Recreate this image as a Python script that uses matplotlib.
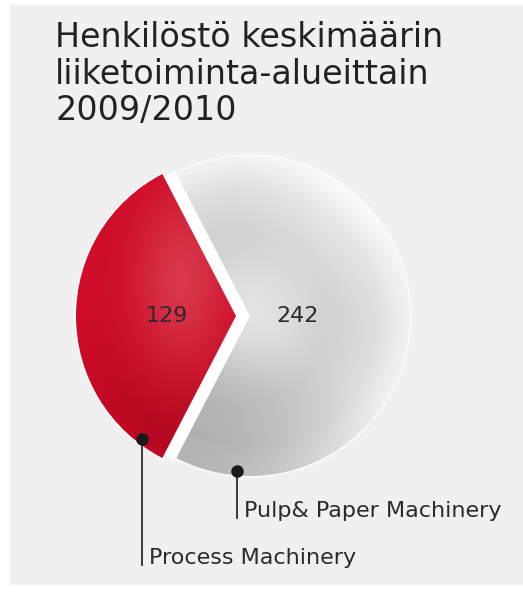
import numpy as np
import matplotlib.pyplot as plt

# data
labels = ["Process Machinery", "Pulp& Paper Machinery"]
values = [129, 242]
title = "Henkilöstö keskimäärin\nliiketoiminta-alueittain\n2009/2010"

plt.rcParams['font.family'] = ['DejaVu Sans']

W, H = 523, 592
fig = plt.figure(figsize=(W / 100, H / 100), dpi=100)
fig.patch.set_facecolor("white")
ax = fig.add_axes([0, 0, 1, 1])

# grey panel
ax.add_patch(plt.Rectangle((10, 8), W - 10, H - 13, color="#f0f0f0", zorder=0))

cx, cy, r = 250, H - 316, 160
expl = 14
share = values[0] / sum(values)
start = 180 - 180 * share
wedges, _ = ax.pie(values, startangle=start, center=(cx, cy), radius=r,
                   explode=[expl, 0], colors=["#cc1430", "#d4d4d4"],
                   wedgeprops=dict(edgecolor="#fafafa", linewidth=2.5))

# white gap between the slices (one polyline so the corner is mitred)
a1 = np.deg2rad(wedges[0].theta1)
a2 = np.deg2rad(wedges[0].theta2)
x0 = cx - expl / 2
ax.plot([x0 + r * np.cos(a1), x0, x0 + r * np.cos(a2)],
        [cy + r * np.sin(a1), cy, cy + r * np.sin(a2)],
        color="white", lw=9, solid_capstyle="butt", solid_joinstyle="miter", zorder=1.5)

# shading for the wedges
yy, xx = np.mgrid[0:H, 0:W] + 0.5

# red one
rx, ry = wedges[0].center
ry = H - ry
light = np.exp(-((xx - 182) ** 2 / (2 * 32.0 ** 2) + (yy - 280) ** 2 / (2 * 60.0 ** 2)))
base = np.array([0.80, 0.05, 0.16])
pink = np.array([0.90, 0.38, 0.43])
dark = np.array([0.64, 0.02, 0.10])
t_dark = np.clip(((yy - ry) / r) * 0.9 + ((rx - xx) / r) * 0.15, 0, 1) ** 1.5
red = base[None, None, :] * (1 - t_dark[..., None]) + dark[None, None, :] * t_dark[..., None]
red = red * (1 - 0.5 * light[..., None]) + pink[None, None, :] * 0.5 * light[..., None]
rr = np.hypot(xx - rx, yy - ry) / r
rim = np.clip((rr - 0.85) / 0.15, 0, 1)
red = red * (1 - 0.4 * rim[..., None]) + np.array([0.85, 0.04, 0.17]) * 0.4 * rim[..., None]
im1 = ax.imshow(np.clip(red, 0, 1), extent=(0, W, 0, H), origin="upper", zorder=2,
                interpolation="bilinear")
im1.set_clip_path(wedges[0])

# grey one
gx, gy = wedges[1].center
gy = H - gy
rg = np.hypot(xx - gx, yy - gy) / r
g = 0.89 - 0.07 * np.exp(-((rg - 0.5) ** 2) / (2 * 0.2 ** 2))
g = g + 0.06 * np.clip((rg - 0.8) / 0.2, 0, 1)
ll = np.clip(((gx - xx) * 0.5 + (yy - gy) * 0.87) / r, 0, 1)
g = g - 0.24 * ll ** 1.4
hl = np.exp(-((xx - 340) ** 2 + (yy - 210) ** 2) / (2 * 60.0 ** 2))
g = g + 0.04 * hl
grey = np.repeat(np.clip(g, 0, 1)[..., None], 3, axis=2)
im2 = ax.imshow(grey, extent=(0, W, 0, H), origin="upper", zorder=2,
                interpolation="bilinear")
im2.set_clip_path(wedges[1])

# value labels
label_pos = [0.43, 0.30]
for w, v, f in zip(wedges, values, label_pos):
    tm = np.deg2rad((w.theta1 + w.theta2) / 2)
    x = w.center[0] + f * r * np.cos(tm)
    y = w.center[1] + f * r * np.sin(tm)
    ax.text(x, y, str(v), ha="center", va="center", fontsize=16,
            color="#2a2a2a", zorder=5)

# callouts
dot_ang = [232.5, 265.2]
line_end = [H - 565, H - 518]
for w, a, lab, ye in zip(wedges, dot_ang, labels, line_end):
    px = w.center[0] + 0.97 * r * np.cos(np.deg2rad(a))
    py = w.center[1] + 0.97 * r * np.sin(np.deg2rad(a))
    ax.plot([px, px], [py, ye], color="#2a2a2a", lw=1.3, zorder=4)
    ax.plot(px, py, "o", ms=8, color="#1a1a1a", zorder=5)
    ax.text(px + 7, ye + 1, lab, ha="left", va="baseline", fontsize=16,
            color="#2a2a2a", zorder=5)

# title, one line at a time
for i, line in enumerate(title.split("\n")):
    ax.text(55, H - 47 - 36.5 * i, line, ha="left", va="baseline", fontsize=24,
            color="#222222")

ax.set_xlim(0, W)
ax.set_ylim(0, H)
ax.axis("off")

fig.savefig("out.png", dpi=100, facecolor="white")
